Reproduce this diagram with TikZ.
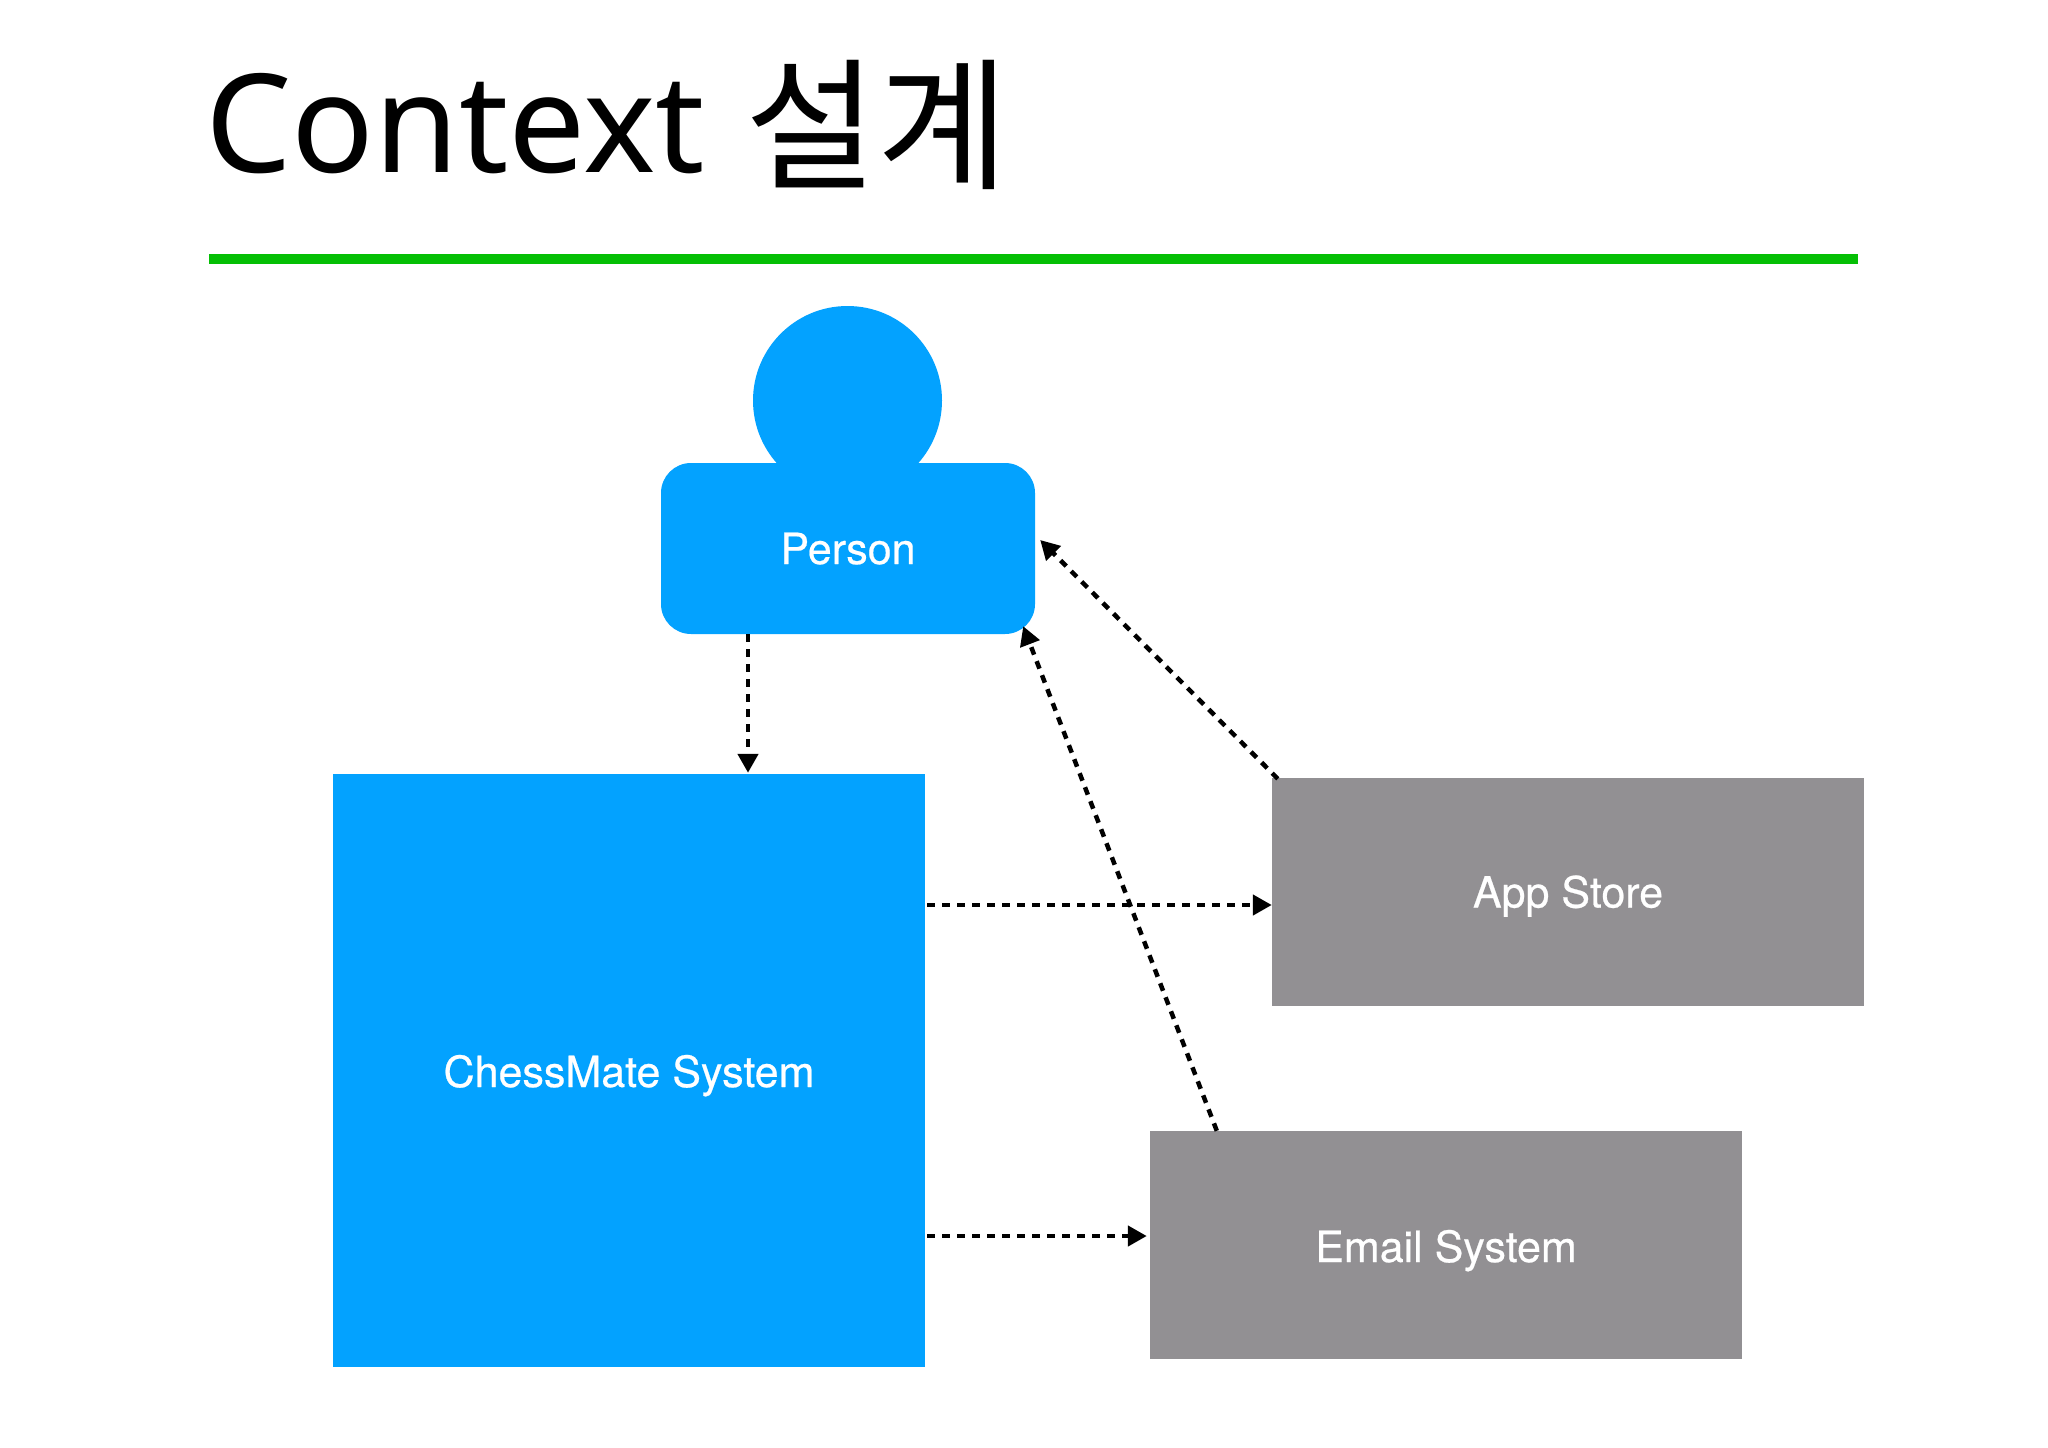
\documentclass[tikz,border=0pt]{standalone}
\usepackage{fontspec}
\setmainfont[FakeBold=0.5]{TeX Gyre Heros}
\newfontfamily\titlefont{Noto Sans}
\newfontfamily\titlecjk{Noto Sans CJK KR}
\usetikzlibrary{arrows.meta,calc}
\definecolor{bluefill}{HTML}{03A2FF}
\definecolor{grayfill}{HTML}{929093}
\definecolor{rulegreen}{HTML}{05BF05}
\tikzset{
  box/.style={rectangle,inner sep=0pt,text=white,text height=31pt,text depth=0pt,font=\fontsize{43}{50}\selectfont},
  bluebox/.style={box,fill=bluefill},
  graybox/.style={box,fill=grayfill},
  link/.style={black,line width=4.5pt,dash pattern=on 8pt off 7pt,-{Triangle[length=19pt,width=20pt,sep=0pt]}}
}
\begin{document}
\begin{tikzpicture}[x=1pt,y=-1pt]
\useasboundingbox (0,0) rectangle (2048,1448);
\fill[white] (0,0) rectangle (2048,1448);
\node[anchor=base west,inner sep=0pt] (title) at (205,172) {\fontsize{137}{160}\selectfont\titlefont Context\kern5pt{} \fontsize{143}{160}\selectfont\titlecjk\raisebox{-6pt}{설계}};
\fill[rulegreen] (209,254) rectangle (1858,264);
\node[circle,fill=bluefill,inner sep=0pt,minimum size=189pt] (head) at (847.5,400.5) {};
\node[bluebox,rounded corners=30pt,minimum width=374pt,minimum height=171pt] (person) at (848,548.5) {Person};
\node[bluebox,minimum width=592pt,minimum height=593pt] (chess) at (629,1070.5) {\raisebox{-1pt}{ChessMate System}};
\node[graybox,minimum width=592pt,minimum height=228pt] (app) at (1568,892) {App Store};
\node[graybox,minimum width=592pt,minimum height=228pt] (email) at (1446,1245) {\raisebox{-1.5pt}{Email System}};
\draw[link] (person.south -| 748,0) -- ($(chess.north -| 748,0)+(0,-1)$);
\draw[link] ($(chess.east |- 0,905)+(2,0)$) -- (app.west |- 0,905);
\draw[link] ($(chess.east |- 0,1236)+(2,0)$) -- ($(email.west |- 0,1236)+(-3,0)$);
\draw[link] ($(email.north west)+(67,0)$) -- ($(person.south east)+(-12,-8)$);
\draw[link] ($(app.north west)+(6,1)$) -- ($(person.east)+(5,-8.5)$);
\end{tikzpicture}
\end{document}
